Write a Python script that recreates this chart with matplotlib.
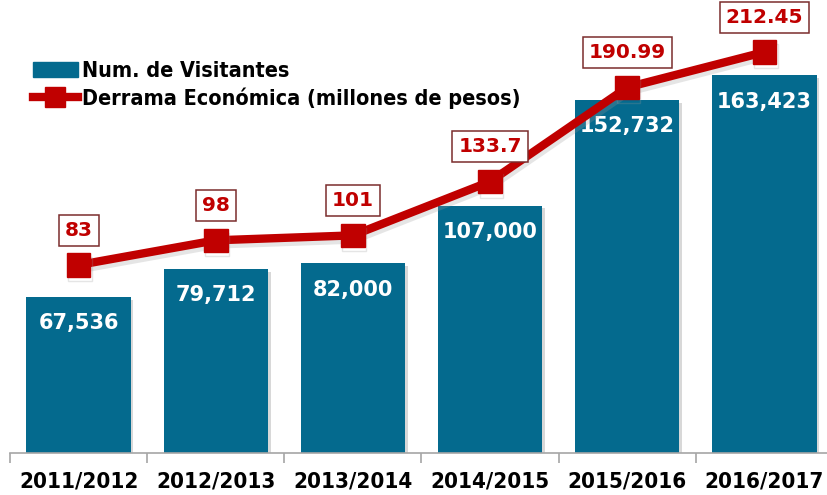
import matplotlib
matplotlib.use("Agg")
import matplotlib.pyplot as plt
import matplotlib.patheffects as pe
from matplotlib.lines import Line2D
from matplotlib.patches import Patch

temporadas = ["2011/2012", "2012/2013", "2013/2014", "2014/2015", "2015/2016", "2016/2017"]
visitantes = [67536, 79712, 82000, 107000, 152732, 163423]
derrama = [83, 98, 101, 133.7, 190.99, 212.45]
derrama_txt = ["83", "98", "101", "133.7", "190.99", "212.45"]

AZUL = "#046A8E"
ROJO = "#C00000"
COND = dict(family="DejaVu Sans", stretch="condensed", weight="bold")

fig = plt.figure(figsize=(8.27, 4.95), dpi=100)
ax = fig.add_axes([10 / 827, 42 / 495, 823 / 827, 416 / 495])

x = list(range(len(temporadas)))
ax.bar(x, visitantes, width=0.76, color=AZUL, zorder=2,
       path_effects=[pe.SimplePatchShadow(offset=(2, -2), shadow_rgbFace="#AAAAAA", alpha=0.45),
                     pe.Normal()])
for xi, v in zip(x, visitantes):
    ax.annotate(f"{v:,}", (xi, v), xytext=(0, -19), textcoords="offset points",
                ha="center", va="center", color="white", fontsize=15, fontweight="bold",
                family="DejaVu Sans", zorder=3)

ax.set_xlim(-0.5, len(temporadas) - 0.5)
ax.set_ylim(0, 180000)
ax.set_yticks([])
for s in ["left", "right", "top"]:
    ax.spines[s].set_visible(False)
ax.spines["bottom"].set_color("#A6A6A6")
ax.spines["bottom"].set_linewidth(1.2)
# category boundaries as major ticks, labels on minor ticks at the centres
ax.set_xticks([i - 0.5 for i in range(len(temporadas) + 1)])
ax.set_xticklabels([])
ax.tick_params(axis="x", which="major", length=7, color="#A6A6A6", width=1.2)
ax.set_xticks(x, minor=True)
ax.set_xticklabels(temporadas, minor=True, fontsize=16, **COND)
ax.tick_params(axis="x", which="minor", length=0, pad=13)

ax2 = ax.twinx()
ax2.set_ylim(-31.3, 221.6)
ax2.axis("off")
ax2.plot(x, derrama, color=ROJO, lw=6, marker="s", markersize=17, zorder=4,
         path_effects=[pe.SimpleLineShadow(offset=(1, -3), shadow_color="#999999", alpha=0.25),
                       pe.Normal()])
for xi, v, t in zip(x, derrama, derrama_txt):
    ax2.annotate(t, (xi, v), xytext=(0, 25), textcoords="offset points",
                 ha="center", va="center", color=ROJO, fontsize=14.5, fontweight="bold",
                 family="DejaVu Sans", zorder=5,
                 bbox=dict(boxstyle="square,pad=0.3", fc="white", ec="#7B2C2C", lw=1.1))

handles = [Patch(color=AZUL),
           Line2D([], [], color=ROJO, lw=6, marker="s", markersize=14)]
fig.legend(handles, ["Num. de Visitantes", "Derrama Económica (millones de pesos)"],
           loc="upper left", bbox_to_anchor=(24 / 827, 1 - 52 / 495), frameon=False,
           handlelength=2.1, handletextpad=0.2, labelspacing=0.3, borderaxespad=0,
           prop=dict(size=15.5, **COND))

fig.savefig("out.png", dpi=100)
